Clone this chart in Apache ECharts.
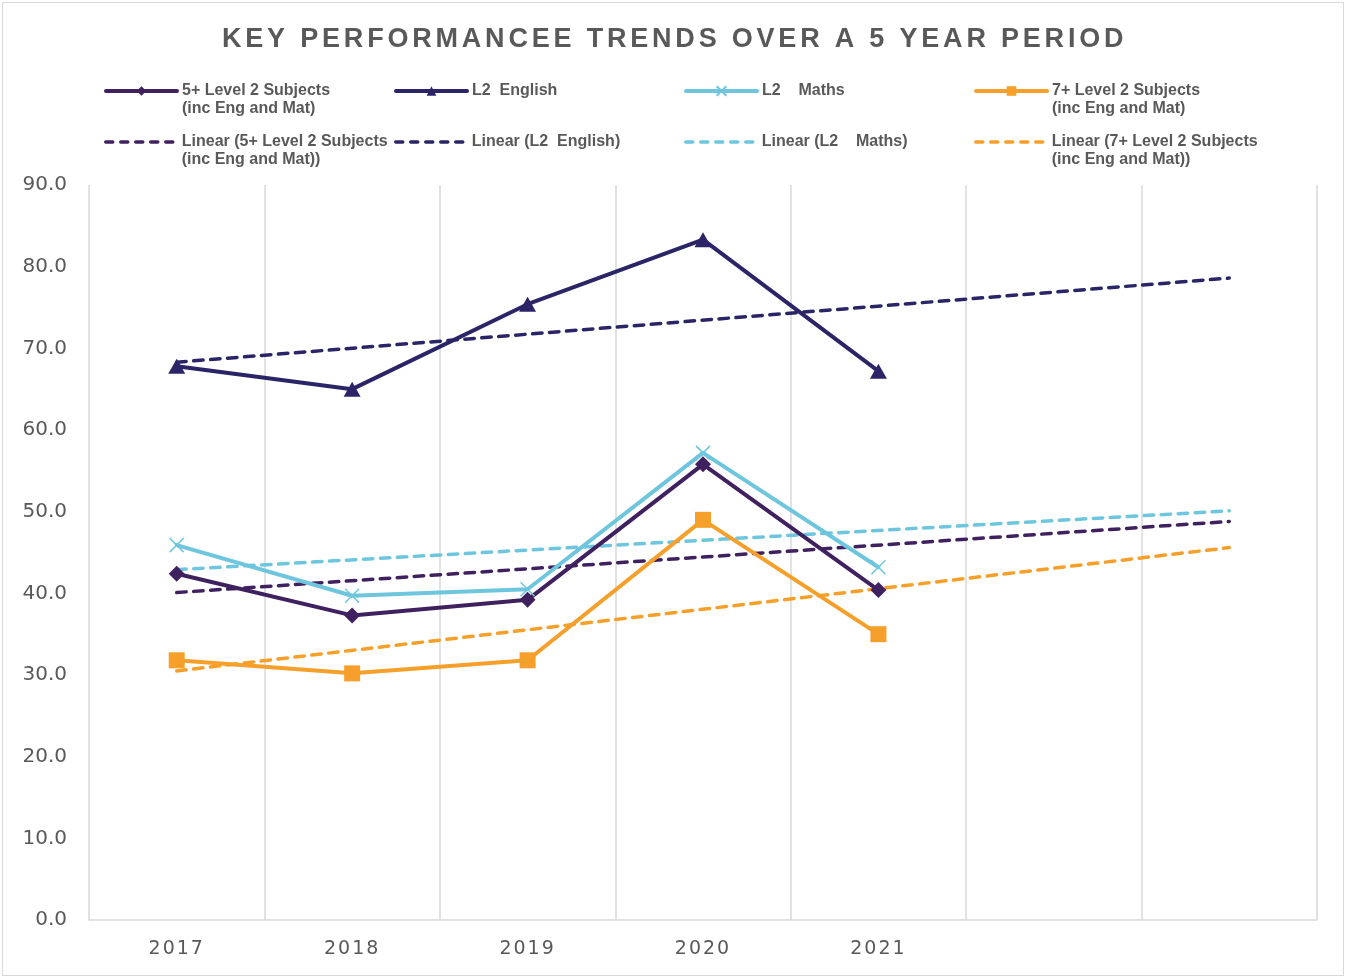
<!DOCTYPE html>
<html>
<head>
<meta charset="utf-8">
<script src="https://cdn.jsdelivr.net/npm/echarts@6/dist/echarts.min.js"></script>
<style>
  html, body { margin: 0; padding: 0; background: #ffffff; }
  #frame { position: absolute; left: 2px; top: 2px; width: 1342px; height: 974px; border: 1px solid #d9d9d9; box-sizing: border-box; }
  #chart { position: absolute; left: 0; top: 0; width: 1346px; height: 978px; }
</style>
</head>
<body>
<div id="frame"></div>
<div id="chart"></div>
<script>
// ---- data ----
const titleText = 'KEY PERFORMANCEE TRENDS OVER A 5 YEAR PERIOD';
const categories = ['2017', '2018', '2019', '2020', '2021', '', ''];
const yTicks = { min: 0, max: 90, interval: 10 };

const name5 = '5+ Level 2 Subjects\n(inc Eng and Mat)';
const nameEng = 'L2  English';
const nameMaths = 'L2    Maths';
const name7 = '7+ Level 2 Subjects\n(inc Eng and Mat)';
const nameT5 = 'Linear (5+ Level 2 Subjects\n(inc Eng and Mat))';
const nameTEng = 'Linear (L2  English)';
const nameTMaths = 'Linear (L2    Maths)';
const nameT7 = 'Linear (7+ Level 2 Subjects\n(inc Eng and Mat))';

const level5 = [42.4, 37.3, 39.2, 55.8, 40.4];
const english = [67.8, 65.0, 75.4, 83.3, 67.2];
const maths = [45.9, 39.7, 40.5, 57.2, 43.2];
const level7 = [31.8, 30.2, 31.8, 49.0, 35.0];

// trendline end values (first category, last forecast category)
const trend5 = [40.1, 48.8];
const trendEng = [68.3, 78.6];
const trendMaths = [42.9, 50.1];
const trend7 = [30.5, 45.6];

// ---- styles ----
const C5 = '#40215f', CENG = '#2b2467', CMATHS = '#6ec6de', C7 = '#f6a02b';
const TEXT = '#595959';

// letter spacing for a few texts (canvas supports ctx.letterSpacing)
const SPACING = {};
SPACING[titleText] = '3.8px';
categories.forEach(c => { if (c) SPACING[c] = '2px'; });
const origFill = CanvasRenderingContext2D.prototype.fillText;
CanvasRenderingContext2D.prototype.fillText = function (t, x, y, m) {
  const ls = SPACING[t];
  if (ls && ('letterSpacing' in this)) {
    this.save();
    const f = this.font;
    this.letterSpacing = ls;
    this.font = '10px sans-serif';
    this.font = f;
    origFill.apply(this, arguments);
    this.restore();
    const f2 = this.font;
    this.font = '10px sans-serif';
    this.font = f2;
  } else {
    origFill.apply(this, arguments);
  }
};

function trendData(pair) {
  const d = categories.map(() => null);
  d[0] = pair[0];
  d[d.length - 1] = pair[1];
  return d;
}

const xPath = 'path://M0,0L10,10M10,0L0,10';

function solid(name, data, color, symbol, size, extra) {
  return Object.assign({
    name, type: 'line', data, symbol, symbolSize: size, showSymbol: true,
    lineStyle: { color, width: 4, cap: 'round', join: 'round' },
    itemStyle: { color, borderColor: color, borderWidth: 0 },
    emphasis: { disabled: true }, animation: false, z: 3
  }, extra || {});
}
function dashed(name, pair, color) {
  return {
    name, type: 'line', data: trendData(pair), connectNulls: true, symbol: 'none',
    lineStyle: { color, width: 3.5, type: [9.5, 7.5], cap: 'round' },
    itemStyle: { color },
    emphasis: { disabled: true }, animation: false, z: 2
  };
}

const legendFont = { color: TEXT, fontSize: 16, fontWeight: 'bold', fontFamily: 'Liberation Sans, Arial, sans-serif', lineHeight: 18 };
function legend(name, left, centerY, isTrend) {
  const two = name.indexOf('\n') >= 0;
  const l = {
    data: [name], left, top: two ? centerY - 27 : centerY - 9,
    padding: 0, itemGap: 0, itemWidth: 71, itemHeight: 12,
    selectedMode: false,
    formatter: n => (n.indexOf('\n') >= 0 ? '\n' + n : n),
    textStyle: Object.assign({}, legendFont),
    lineStyle: isTrend ? { width: 3.5, type: [7, 8], cap: 'round' } : { width: 4 }
  };
  if (isTrend) l.itemStyle = { color: 'rgba(0,0,0,0)', borderColor: 'rgba(0,0,0,0)', borderWidth: 0, opacity: 0 };
  return l;
}

const chart = echarts.init(document.getElementById('chart'), null, { renderer: 'canvas' });
chart.setOption({
  animation: false,
  backgroundColor: 'transparent',
  title: {
    text: titleText, left: 222, top: 26, padding: 0,
    textStyle: { color: TEXT, fontSize: 27, fontWeight: 'bold', fontFamily: 'Liberation Sans, Arial, sans-serif' }
  },
  legend: [
    legend(name5, 104, 91), legend(nameEng, 394, 91), legend(nameMaths, 684, 91), legend(name7, 974, 91),
    legend(nameT5, 104, 142, true), legend(nameTEng, 394, 142, true), legend(nameTMaths, 684, 142, true), legend(nameT7, 974, 142, true)
  ],
  grid: { left: 89, right: 29, top: 185, bottom: 58, containLabel: false },
  xAxis: {
    type: 'category', data: categories, boundaryGap: true,
    axisLine: { show: true, lineStyle: { color: '#d9d9d9', width: 1.5 } },
    axisTick: { show: false },
    splitLine: { show: true, lineStyle: { color: '#d9d9d9', width: 1.5 } },
    axisLabel: { color: TEXT, fontSize: 19, fontFamily: 'DejaVu Sans, sans-serif', margin: 20, interval: 0 }
  },
  yAxis: {
    type: 'value', min: yTicks.min, max: yTicks.max, interval: yTicks.interval,
    axisLine: { show: false }, axisTick: { show: false }, splitLine: { show: false },
    axisLabel: { color: TEXT, fontSize: 20, fontFamily: 'DejaVu Sans, sans-serif', margin: 22,
      formatter: v => v.toFixed(1) }
  },
  series: [
    solid(name5, level5, C5, 'diamond', 16),
    solid(nameEng, english, CENG, 'triangle', [17, 15]),
    solid(nameMaths, maths, CMATHS, xPath, 14, { itemStyle: { color: 'none', borderColor: CMATHS, borderWidth: 1.5 } }),
    solid(name7, level7, C7, 'rect', 16),
    dashed(nameT5, trend5, C5),
    dashed(nameTEng, trendEng, CENG),
    dashed(nameTMaths, trendMaths, CMATHS),
    dashed(nameT7, trend7, C7)
  ]
});
</script>
</body>
</html>
